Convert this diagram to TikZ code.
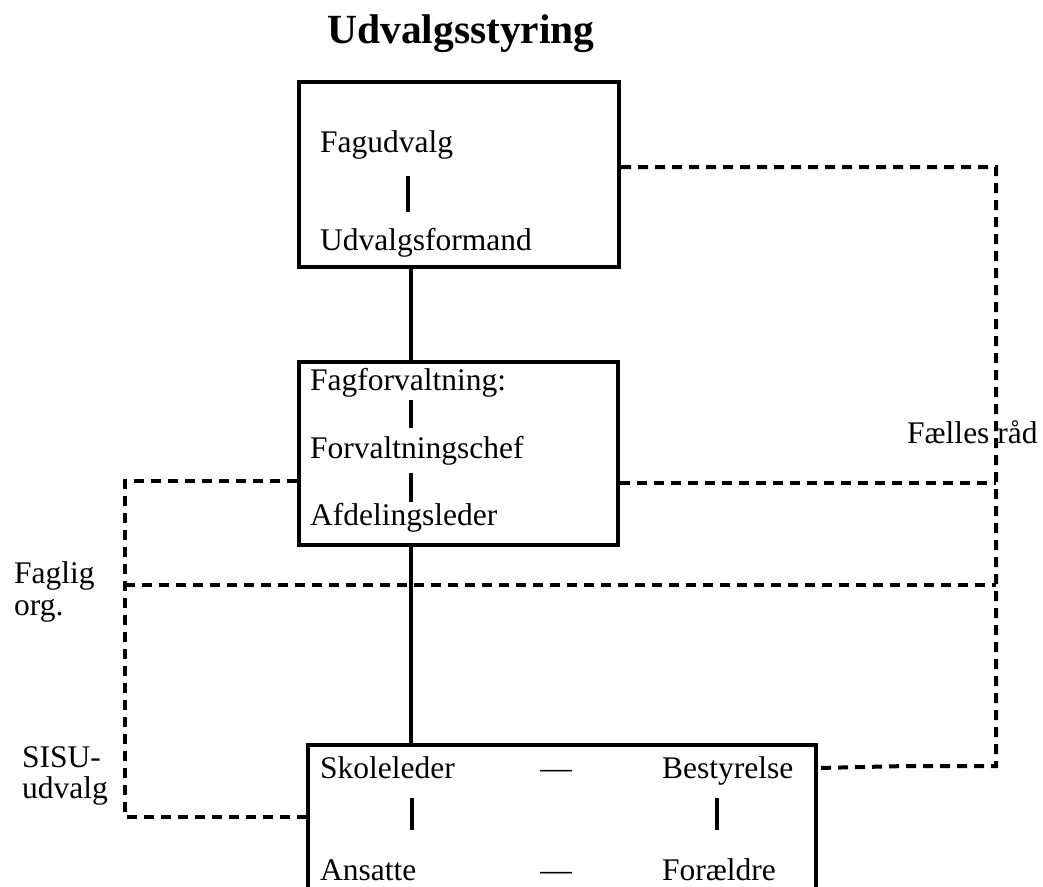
\documentclass[tikz,border=0pt]{standalone}
\usepackage{fontspec}
\setmainfont{Liberation Serif}
\newcommand\txtsize{\fontsize{31.5}{36}\selectfont}
\begin{document}
\begin{tikzpicture}[x=1pt,y=-1pt,
  boxshape/.style={draw,line width=4pt,inner sep=0pt,fill=none},
  lbl/.style={anchor=base west,inner sep=0pt,font=\txtsize},
  mid/.style={anchor=base,inner sep=0pt,font=\txtsize},
  tickline/.style={line width=4.5pt},
  conn/.style={line width=4.5pt},
  dsh/.style={line width=4pt,dash pattern=on 10pt off 7pt}]
\useasboundingbox (0,0) rectangle (1043,886);
\clip (0,0) rectangle (1043,886);
% title
\node[anchor=base,inner sep=0pt,font=\fontsize{41.5}{46}\selectfont\bfseries] (title) at (461,43) {Udvalgsstyring};
% boxes
\node[boxshape,minimum width=320pt,minimum height=185pt] (b1) at (459,174.5) {};
\node[boxshape,minimum width=319pt,minimum height=183pt] (b2) at (458.5,453.5) {};
\node[boxshape,minimum width=508pt,minimum height=200pt] (b3) at (562,845) {};
% texts box 1
\node[lbl] (fagudvalg) at (320,152) {Fagudvalg};
\node[lbl] (formand) at (320,250) {Udvalgsformand};
\draw[tickline] (408,176) -- (408,212);
% texts box 2
\node[lbl] (fagforv) at (310,390) {Fagforvaltning:};
\node[lbl] (chef) at (310,458) {Forvaltningschef};
\node[lbl] (afd) at (310,525) {Afdelingsleder};
\draw[tickline] (411,400) -- (411,428);
\draw[tickline] (411,473) -- (411,502);
% texts box 3
\node[lbl] (skole) at (320,778) {Skoleleder};
\node[mid] (d1) at (556,778) {—};
\node[lbl] (bestyr) at (662,778) {Bestyrelse};
\node[lbl] (ansatte) at (320,880) {Ansatte};
\node[mid] (d2) at (556,880) {—};
\node[lbl] (foraeldre) at (662,880) {Forældre};
\draw[tickline] (412,798) -- (412,830);
\draw[tickline] (717,798) -- (717,830);
% side labels
\node[lbl] (faglig) at (14,583) {Faglig};
\node[lbl] (org) at (14,615) {org.};
\node[lbl] (sisu) at (22,767) {SISU-};
\node[lbl] (udvalg) at (22,798) {udvalg};
\node[lbl] (faelles) at (907,443) {Fælles råd};
% solid spine
\coordinate (spine) at (411,0);
\draw[conn] (b1.south -| spine) -- (b2.north -| spine);
\draw[conn] (b2.south -| spine) -- (b3.north -| spine);
% dashed connectors
\coordinate (r1) at (996,167);
\coordinate (r2) at (996,766);
\coordinate (r3) at (996,483);
\coordinate (r4) at (996,585);
\coordinate (l1) at (125,481);
\coordinate (l2) at (125,817);
\draw[dsh] (b1.east |- r1) -- (r1) -- (r2) -- (907,766) -- (b3.east |- 0,768);
\draw[dsh] (b2.east |- r3) -- (r3);
\draw[dsh] (l1 |- r4) -- (r4);
\draw[dsh] (b2.west |- l1) -- (l1) -- (l2) -- (b3.west |- l2);
\end{tikzpicture}
\end{document}
